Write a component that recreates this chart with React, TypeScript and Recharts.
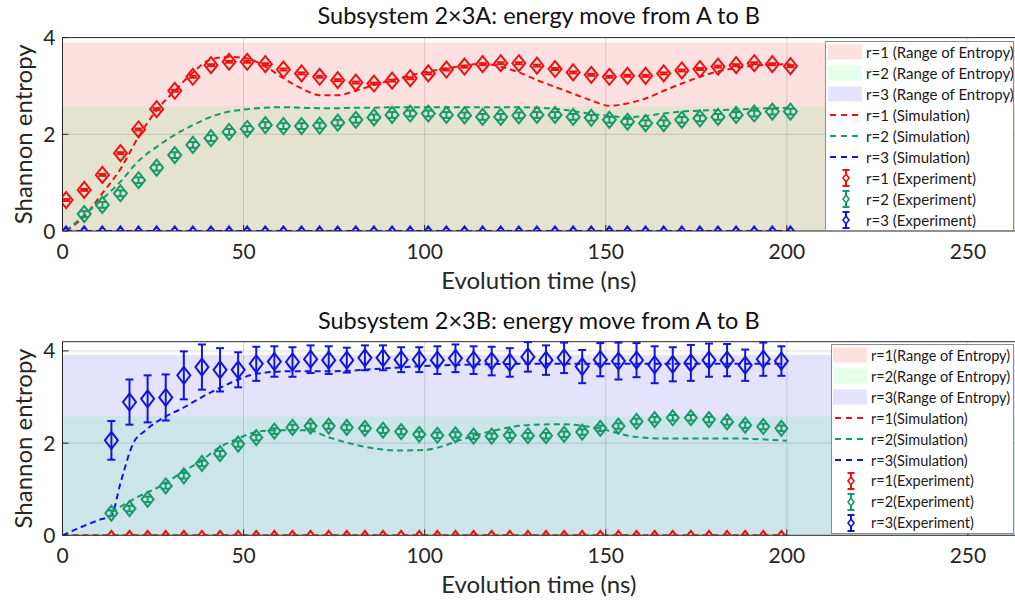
import React from 'react';
import {
  ComposedChart,
  Line,
  Scatter,
  XAxis,
  YAxis,
  ReferenceArea,
  ReferenceLine,
  ErrorBar,
  Legend,
} from 'recharts';

const FONT = 'Lato, "Open Sans", sans-serif';
const AXIS = '#262626';
const RED = '#ee1111';
const GREEN = '#17996a';
const BLUE = '#1414e0';

const FILL_R1 = 'rgba(235,0,0,0.12)';
const FILL_R2 = 'rgba(0,255,55,0.10)';
const FILL_R3 = 'rgba(0,0,230,0.11)';

const xTicks = [0, 50, 100, 150, 200, 250];
const yTicks = [0, 2, 4];
const gridX = [50, 100, 150, 200, 250];

const rangeR1 = 3.9;
const rangeR2 = 2.58;
const rangeR3 = 3.91;

// ---------- Subsystem 2x3A ----------
const timeA = [1, 6, 11, 16, 21, 26, 31, 36, 41, 46, 51, 56, 61, 66, 71, 76, 81, 86, 91, 96, 101, 106, 111, 116, 121, 126, 131, 136, 141, 146, 151, 156, 161, 166, 171, 176, 181, 186, 191, 196, 201];
const redExpA = [0.64, 0.85, 1.16, 1.61, 2.10, 2.52, 2.90, 3.19, 3.43, 3.50, 3.50, 3.45, 3.34, 3.26, 3.19, 3.12, 3.07, 3.05, 3.11, 3.16, 3.26, 3.34, 3.40, 3.45, 3.47, 3.47, 3.42, 3.35, 3.28, 3.23, 3.19, 3.21, 3.21, 3.26, 3.32, 3.35, 3.40, 3.43, 3.47, 3.45, 3.41];
const greenExpA = [null, 0.35, 0.54, 0.78, 1.05, 1.31, 1.57, 1.78, 1.92, 2.05, 2.11, 2.19, 2.17, 2.17, 2.18, 2.24, 2.30, 2.35, 2.40, 2.43, 2.43, 2.40, 2.39, 2.36, 2.36, 2.39, 2.40, 2.40, 2.36, 2.34, 2.30, 2.26, 2.23, 2.23, 2.30, 2.33, 2.36, 2.40, 2.43, 2.47, 2.47];
const blueExpA = [0, 0, 0, 0, 0, 0, 0, 0, 0, 0, 0, 0, 0, 0, 0, 0, 0, 0, 0, 0, 0, 0, 0, 0, 0, 0, 0, 0, 0, 0, 0, 0, 0, 0, 0, 0, 0, 0, 0, 0, 0];
const redErrA = 0.02;
const greenErrA = 0.06;
const redSimA = [0, 0.30, 0.78, 1.28, 1.95, 2.50, 2.90, 3.28, 3.55, 3.60, 3.57, 3.40, 3.16, 2.95, 2.81, 2.81, 2.90, 3.02, 3.12, 3.22, 3.30, 3.36, 3.42, 3.46, 3.40, 3.28, 3.12, 2.98, 2.84, 2.70, 2.59, 2.64, 2.74, 2.90, 3.05, 3.19, 3.30, 3.37, 3.42, 3.44, 3.45];
const greenSimA = [0, 0.33, 0.66, 1.02, 1.45, 1.74, 1.99, 2.19, 2.36, 2.47, 2.52, 2.55, 2.56, 2.55, 2.54, 2.54, 2.55, 2.55, 2.56, 2.56, 2.56, 2.56, 2.56, 2.56, 2.56, 2.56, 2.55, 2.53, 2.48, 2.42, 2.38, 2.35, 2.38, 2.43, 2.47, 2.49, 2.50, 2.51, 2.53, 2.54, 2.55];
const blueSimA = [0, 0, 0, 0, 0, 0, 0, 0, 0, 0, 0, 0, 0, 0, 0, 0, 0, 0, 0, 0, 0, 0, 0, 0, 0, 0, 0, 0, 0, 0, 0, 0, 0, 0, 0, 0, 0, 0, 0, 0, 0];

// ---------- Subsystem 2x3B ----------
const timeB = [13.5, 18.5, 23.5, 28.5, 33.5, 38.5, 43.5, 48.5, 53.5, 58.5, 63.5, 68.5, 73.5, 78.5, 83.5, 88.5, 93.5, 98.5, 103.5, 108.5, 113.5, 118.5, 123.5, 128.5, 133.5, 138.5, 143.5, 148.5, 153.5, 158.5, 163.5, 168.5, 173.5, 178.5, 183.5, 188.5, 193.5, 198.5];
const blueExpB = [2.06, 2.89, 2.96, 2.99, 3.47, 3.65, 3.59, 3.59, 3.72, 3.77, 3.76, 3.82, 3.80, 3.80, 3.85, 3.85, 3.81, 3.81, 3.80, 3.84, 3.80, 3.78, 3.75, 3.87, 3.80, 3.85, 3.66, 3.81, 3.78, 3.80, 3.70, 3.71, 3.74, 3.80, 3.80, 3.69, 3.82, 3.78];
const blueErrB = [0.42, 0.49, 0.51, 0.50, 0.52, 0.49, 0.47, 0.38, 0.37, 0.33, 0.32, 0.30, 0.30, 0.27, 0.27, 0.27, 0.27, 0.27, 0.30, 0.30, 0.30, 0.31, 0.31, 0.32, 0.32, 0.33, 0.36, 0.36, 0.40, 0.37, 0.40, 0.37, 0.39, 0.36, 0.35, 0.34, 0.36, 0.32];
const greenExpB = [0.48, 0.58, 0.78, 1.07, 1.29, 1.56, 1.77, 1.98, 2.12, 2.26, 2.34, 2.37, 2.37, 2.34, 2.32, 2.28, 2.25, 2.19, 2.17, 2.18, 2.15, 2.15, 2.17, 2.16, 2.16, 2.19, 2.24, 2.32, 2.37, 2.47, 2.51, 2.55, 2.55, 2.51, 2.46, 2.39, 2.36, 2.32];
const redExpB = [0, 0, 0, 0, 0, 0, 0, 0, 0, 0, 0, 0, 0, 0, 0, 0, 0, 0, 0, 0, 0, 0, 0, 0, 0, 0, 0, 0, 0, 0, 0, 0, 0, 0, 0, 0, 0, 0];
const greenErrB = 0.06;

const blueSimBTime = [0, 4, 10, 13.5, 16, 19.5, 23, 28.5, 33, 38.5, 43, 48.5, 54, 63, 75, 85, 95, 110, 130, 150, 170, 200];
const blueSimB = [0, 0.14, 0.33, 0.43, 1.13, 1.99, 2.28, 2.58, 2.75, 3.0, 3.18, 3.38, 3.51, 3.56, 3.56, 3.60, 3.65, 3.70, 3.72, 3.72, 3.72, 3.72];
const greenSimBTime = [13.5, 19.5, 28.5, 33, 38, 43, 48.5, 54, 60, 68, 73, 79, 85, 93, 100, 106, 110, 119, 128, 138, 148, 157, 166, 175, 185, 200];
const greenSimB = [0.50, 0.78, 1.13, 1.37, 1.60, 1.89, 2.10, 2.25, 2.28, 2.28, 2.14, 2.00, 1.90, 1.84, 1.85, 1.96, 2.07, 2.27, 2.39, 2.41, 2.32, 2.15, 2.10, 2.10, 2.10, 2.05];
const redSimBTime = [0, 200];
const redSimB = [0, 0];

const legendLabelsA = [
  'r=1 (Range of Entropy)', 'r=2 (Range of Entropy)', 'r=3 (Range of Entropy)',
  'r=1 (Simulation)', 'r=2 (Simulation)', 'r=3 (Simulation)',
  'r=1 (Experiment)', 'r=2 (Experiment)', 'r=3 (Experiment)',
];
const legendLabelsB = [
  'r=1(Range of Entropy)', 'r=2(Range of Entropy)', 'r=3(Range of Entropy)',
  'r=1(Simulation)', 'r=2(Simulation)', 'r=3(Simulation)',
  'r=1(Experiment)', 'r=2(Experiment)', 'r=3(Experiment)',
];

// ---------- helpers ----------
const zip = (xs: number[], ys: (number | null)[], err?: number | number[]) =>
  xs
    .map((x, i) => ({ x, y: ys[i], err: Array.isArray(err) ? err[i] : err ?? 0 }))
    .filter((d) => d.y !== null && d.y !== undefined);

const diamond = (hw: number, hh: number, color: string, sw: number) => (props: any) => {
  const { cx, cy } = props;
  if (cx == null || cy == null || isNaN(cx) || isNaN(cy)) return <g />;
  return (
    <path
      d={`M${cx},${cy - hh}L${cx + hw},${cy}L${cx},${cy + hh}L${cx - hw},${cy}Z`}
      fill="none"
      stroke={color}
      strokeWidth={sw}
    />
  );
};

const XTick = (props: any) => {
  const { x, y, payload } = props;
  const ay = y - 13;
  return (
    <g>
      <line x1={x} x2={x} y1={ay} y2={ay - 6} stroke={AXIS} strokeWidth={1} />
      <text x={x} y={ay + 28} textAnchor="middle" fontSize={21} fill={AXIS} fontFamily={FONT}>
        {payload.value}
      </text>
    </g>
  );
};

const YTick = (props: any) => {
  const { x, y, payload } = props;
  const ax = x + 7;
  return (
    <g>
      <line x1={ax} x2={ax + 6} y1={y} y2={y} stroke={AXIS} strokeWidth={1} />
      <text x={x} y={y} dy="0.36em" textAnchor="end" fontSize={21} fill={AXIS} fontFamily={FONT}>
        {payload.value}
      </text>
    </g>
  );
};

const XLabel = (props: any) => {
  const vb = props.viewBox || {};
  return (
    <text
      x={vb.x + vb.width / 2}
      y={vb.y + 58}
      textAnchor="middle"
      fontSize={24}
      fill={AXIS}
      fontFamily={FONT}
    >
      Evolution time (ns)
    </text>
  );
};

const YLabel = (props: any) => {
  const vb = props.viewBox || {};
  const cx = 22.5;
  const cy = vb.y + vb.height / 2;
  return (
    <text
      x={cx}
      y={cy}
      transform={`rotate(-90 ${cx} ${cy})`}
      textAnchor="middle"
      dominantBaseline="central"
      fontSize={24}
      fill={AXIS}
      fontFamily={FONT}
    >
      Shannon entropy
    </text>
  );
};

const LegendIcon = ({ idx, w }: { idx: number; w: number }) => {
  const h = 20;
  const c = h / 2;
  const colors = [RED, GREEN, BLUE];
  const fills = [FILL_R1, FILL_R2, FILL_R3];
  const color = colors[idx % 3];
  if (idx < 3) {
    return (
      <svg width={w} height={h}>
        <rect x={0} y={c - 7.5} width={w - 2} height={15} fill={fills[idx]} />
      </svg>
    );
  }
  if (idx < 6) {
    return (
      <svg width={w} height={h}>
        <line x1={2} x2={w - 4} y1={c} y2={c} stroke={color} strokeWidth={2} strokeDasharray="6 5" />
      </svg>
    );
  }
  const mx = w / 2;
  return (
    <svg width={w} height={h}>
      <line x1={mx} x2={mx} y1={c - 8} y2={c + 8} stroke={color} strokeWidth={2} />
      <line x1={mx - 3.5} x2={mx + 3.5} y1={c - 8} y2={c - 8} stroke={color} strokeWidth={2} />
      <line x1={mx - 3.5} x2={mx + 3.5} y1={c + 8} y2={c + 8} stroke={color} strokeWidth={2} />
      <path d={`M${mx},${c - 4}L${mx + 3},${c}L${mx},${c + 4}L${mx - 3},${c}Z`} fill="#fff" stroke={color} strokeWidth={1.6} />
    </svg>
  );
};

const LegendBox = ({ labels, width, height, iconW, padL, fontSize }: { labels: string[]; width: number; height: number; iconW: number; padL: number; fontSize: number }) => (
  <div
    style={{
      width,
      height,
      boxSizing: 'border-box',
      border: '1px solid #8c8c8c',
      background: '#fff',
      fontFamily: FONT,
      fontSize,
      color: '#1a1a1a',
      display: 'flex',
      flexDirection: 'column',
      overflow: 'hidden',
    }}
  >
    {labels.map((lab, i) => (
      <div key={i} style={{ flex: 1, display: 'flex', alignItems: 'center', whiteSpace: 'nowrap' }}>
        <div style={{ marginLeft: padL, width: iconW, height: 20, flexShrink: 0 }}>
          <LegendIcon idx={i} w={iconW} />
        </div>
        <span style={{ marginLeft: 2 }}>{lab}</span>
      </div>
    ))}
  </div>
);

type PanelProps = {
  height: number;
  top: number;
  xAxisHeight: number;
  yMax: number;
  areas: { y2: number; fill: string }[];
  gridY: number[];
  sims: { data: { x: number; y: number | null }[]; color: string; key: string }[];
  exps: { data: any[]; color: string; key: string; hw: number; hh: number; sw: number; err: boolean; capW: number }[];
  legend: { labels: string[]; left: number; top: number; width: number; height: number; iconW: number; padL: number; fontSize: number };
};

const Panel = (p: PanelProps) => (
  <ComposedChart
    width={1015}
    height={p.height}
    margin={{ top: p.top, right: 0, bottom: 0, left: 0 }}
    style={{ fontFamily: FONT }}
  >
    <XAxis
      dataKey="x"
      type="number"
      domain={[0, 263]}
      ticks={xTicks}
      tickSize={0}
      tickMargin={13}
      tick={<XTick />}
      axisLine={{ stroke: AXIS }}
      height={p.xAxisHeight}
      allowDataOverflow
      label={<XLabel />}
    />
    <YAxis
      type="number"
      domain={[0, p.yMax]}
      ticks={yTicks}
      tickSize={0}
      tickMargin={7}
      tick={<YTick />}
      axisLine={{ stroke: AXIS }}
      width={62.5}
      allowDataOverflow
      label={<YLabel />}
    />
    {p.areas.map((a, i) => (
      <ReferenceArea key={`a${i}`} x1={0} x2={263} y1={0} y2={a.y2} fill={a.fill} fillOpacity={1} stroke="none" ifOverflow="hidden" />
    ))}
    {gridX.map((g) => (
      <ReferenceLine key={`gx${g}`} x={g} stroke="rgba(0,0,0,0.14)" strokeWidth={1} />
    ))}
    {p.gridY.map((g) => (
      <ReferenceLine key={`gy${g}`} y={g} stroke="rgba(0,0,0,0.14)" strokeWidth={1} />
    ))}
    <ReferenceLine y={p.yMax} stroke={AXIS} strokeWidth={1} />
    {p.sims.map((s) => (
      <Line
        key={s.key}
        data={s.data}
        dataKey="y"
        type="monotone"
        stroke={s.color}
        strokeWidth={2}
        strokeDasharray="6 4"
        dot={false}
        activeDot={false}
        isAnimationActive={false}
        legendType="none"
      />
    ))}
    {p.exps.map((e) => (
      <Scatter
        key={e.key}
        data={e.data}
        dataKey="y"
        fill="none"
        shape={diamond(e.hw, e.hh, e.color, e.sw)}
        isAnimationActive={false}
        legendType="none"
      >
        {e.err ? (
          <ErrorBar dataKey="err" direction="y" width={e.capW} stroke={e.color} strokeWidth={2} isAnimationActive={false} />
        ) : null}
      </Scatter>
    ))}
    <Legend
      layout="horizontal"
      verticalAlign="middle"
      align="center"
      wrapperStyle={{ position: 'absolute', left: p.legend.left, top: p.legend.top, width: p.legend.width, height: p.legend.height, margin: 0, padding: 0 }}
      content={() => (
        <LegendBox
          labels={p.legend.labels}
          width={p.legend.width}
          height={p.legend.height}
          iconW={p.legend.iconW}
          padL={p.legend.padL}
          fontSize={p.legend.fontSize}
        />
      )}
    />
  </ComposedChart>
);

const titleStyle = (top: number): React.CSSProperties => ({
  position: 'absolute',
  left: 62.5,
  width: 952.5,
  top,
  textAlign: 'center',
  fontFamily: FONT,
  fontSize: 23.5,
  lineHeight: '28px',
  color: '#111',
  whiteSpace: 'nowrap',
});

export default function App() {
  const panelA: PanelProps = {
    height: 300,
    top: 37.6,
    xAxisHeight: 69,
    yMax: 4,
    areas: [
      { y2: rangeR1, fill: FILL_R1 },
      { y2: rangeR2, fill: FILL_R2 },
    ],
    gridY: [2],
    sims: [
      { key: 'r1s', color: RED, data: zip(timeA, redSimA) },
      { key: 'r2s', color: GREEN, data: zip(timeA, greenSimA) },
      { key: 'r3s', color: BLUE, data: zip(timeA, blueSimA) },
    ],
    exps: [
      { key: 'r1e', color: RED, data: zip(timeA, redExpA, redErrA), hw: 6.5, hh: 8, sw: 2, err: true, capW: 4 },
      { key: 'r2e', color: GREEN, data: zip(timeA, greenExpA, greenErrA), hw: 6.5, hh: 8, sw: 2, err: true, capW: 4 },
      { key: 'r3e', color: BLUE, data: zip(timeA, blueExpA), hw: 3.5, hh: 4.5, sw: 2, err: false, capW: 3 },
    ],
    legend: { labels: legendLabelsA, left: 825, top: 40.7, width: 189, height: 190.5, iconW: 36, padL: 2, fontSize: 15 },
  };
  const panelB: PanelProps = {
    height: 303,
    top: 41.7,
    xAxisHeight: 67.7,
    yMax: 4.2,
    areas: [
      { y2: rangeR3, fill: FILL_R3 },
      { y2: rangeR2, fill: FILL_R2 },
    ],
    gridY: [2, 4],
    sims: [
      { key: 'r1s', color: RED, data: zip(redSimBTime, redSimB) },
      { key: 'r2s', color: GREEN, data: zip(greenSimBTime, greenSimB) },
      { key: 'r3s', color: BLUE, data: zip(blueSimBTime, blueSimB) },
    ],
    exps: [
      { key: 'r1e', color: RED, data: zip(timeB, redExpB), hw: 3.5, hh: 4.5, sw: 2, err: false, capW: 3 },
      { key: 'r2e', color: GREEN, data: zip(timeB, greenExpB, greenErrB), hw: 6, hh: 7.5, sw: 2, err: true, capW: 4 },
      { key: 'r3e', color: BLUE, data: zip(timeB, blueExpB, blueErrB), hw: 6.5, hh: 8.5, sw: 2, err: true, capW: 4 },
    ],
    legend: { labels: legendLabelsB, left: 831, top: 44, width: 183, height: 190.3, iconW: 36, padL: 1, fontSize: 14.5 },
  };
  return (
    <div style={{ position: 'absolute', left: 0, top: 0, width: 1015, height: 603, background: '#fff', overflow: 'hidden' }}>
      <div style={{ position: 'absolute', left: 0, top: 0 }}>
        <Panel {...panelA} />
      </div>
      <div style={{ position: 'absolute', left: 0, top: 300 }}>
        <Panel {...panelB} />
      </div>
      <div style={titleStyle(1)}>Subsystem 2×3A: energy move from A to B</div>
      <div style={titleStyle(306)}>Subsystem 2×3B: energy move from A to B</div>
    </div>
  );
}
